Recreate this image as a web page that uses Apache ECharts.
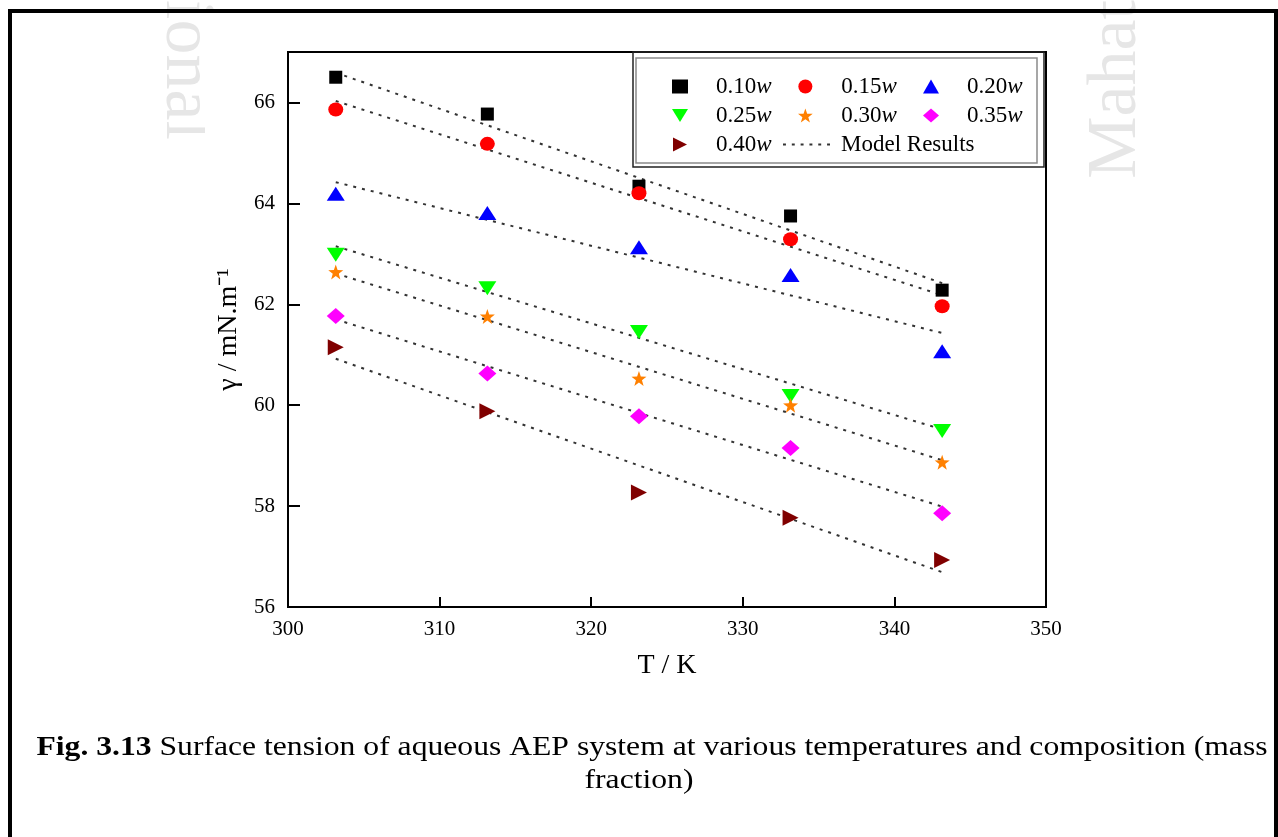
<!DOCTYPE html>
<html>
<head>
<meta charset="utf-8">
<script src="https://cdn.jsdelivr.net/npm/echarts@6/dist/echarts.min.js"></script>
<style>
html,body{margin:0;padding:0;background:#fff;}
#chart{width:1278px;height:837px;}
</style>
</head>
<body>
<div id="chart"></div>
<script>
// Temperatures (K)
const temps = [303.15, 313.15, 323.15, 333.15, 343.15];
// Measured surface tension (mN/m)
const s010 = [66.50, 65.77, 64.34, 63.75, 62.28];
const s015 = [65.86, 65.18, 64.20, 63.29, 61.96];
const s020 = [64.19, 63.81, 63.13, 62.58, 61.07];
const s025 = [62.98, 62.32, 61.45, 60.18, 59.49];
const s030 = [62.64, 61.76, 60.53, 60.00, 58.87];
const s035 = [61.77, 60.63, 59.78, 59.15, 57.86];
const s040 = [61.15, 59.88, 58.27, 57.77, 56.93];
// Model results: values at first and last temperature
const modelT = [303.15, 343.15];
const m010 = [66.59, 62.42];
const m015 = [66.03, 62.18];
const m020 = [64.42, 61.43];
const m025 = [63.15, 59.52];
const m030 = [62.61, 58.91];
const m035 = [61.70, 57.99];
const m040 = [60.92, 56.69];
const names = ['0.10w','0.15w','0.20w','0.25w','0.30w','0.35w','0.40w'];
const xTicks = [300, 310, 320, 330, 340, 350];
const yTicks = [56, 58, 60, 62, 64, 66];

const measured = [s010, s015, s020, s025, s030, s035, s040];
const models = [m010, m015, m020, m025, m030, m035, m040];
const colors = ['#000000','#ff0000','#0000ff','#00ff00','#ff8000','#ff00ff','#800000'];
const STAR = 'path://M100,0L123.5,67.6L195.1,69.1L138,112.4L158.8,180.9L100,140L41.2,180.9L62,112.4L4.9,69.1L76.5,67.6Z';
const symbols = ['rect','circle','triangle','path://M0,0L2,0L1,1.6Z',STAR,'diamond','path://M0,0L2,1L0,2Z'];
const sizes = [13,[15,14],[18,14],[18,14],15,[18,16],[16,16]];
const DOTS = 'path://M0,0h3v2h-3z M9,0h3v2h-3z M18,0h3v2h-3z M27,0h3v2h-3z M36,0h3v2h-3z M45,0h3v2h-3z';

const FONT = "'Liberation Serif','Times New Roman',serif";
const series = [];
measured.forEach((arr, i) => {
  series.push({
    name: names[i], type: 'scatter', symbol: symbols[i], symbolSize: sizes[i],
    itemStyle: {color: colors[i], opacity: 1},
    data: temps.map((t, k) => [t, arr[k]]), z: 3
  });
});
models.forEach((arr) => {
  series.push({
    name: 'Model Results', type: 'line', symbol: 'none', silent: true,
    lineStyle: {color: '#333', width: 2, type: [3, 6]},
    itemStyle: {color: '#333'},
    data: modelT.map((t, k) => [t, arr[k]]), z: 2
  });
});

const LFS = 23;
const legendText = {
  fontFamily: FONT, fontSize: LFS, color: '#000',
  rich: {
    n: {fontFamily: FONT, fontSize: LFS, color: '#000', padding: [0,0,0,23]},
    w: {fontFamily: FONT, fontSize: LFS, color: '#000', fontStyle: 'italic'},
    m: {fontFamily: FONT, fontSize: LFS, color: '#000', padding: [0,0,0,6]}
  }
};
const fmt = (name) => name === 'Model Results' ? '{m|Model Results}' : '{n|' + name.slice(0, -1) + '}{w|w}';
function mkLegend(data, left, top, iw, ih) {
  return {
    data: data, left: left, top: top, orient: 'vertical', itemGap: 6,
    itemWidth: iw, itemHeight: ih, padding: 0, formatter: fmt,
    textStyle: legendText, selectedMode: false
  };
}

const option = {
  backgroundColor: '#fff',
  animation: false,
  grid: {left: 288, right: 232, top: 52, bottom: 230, show: true, borderColor: '#000', borderWidth: 2},
  xAxis: {
    type: 'value', min: 300, max: 350, interval: 10,
    name: 'T / K', nameLocation: 'middle', nameGap: 45,
    nameTextStyle: {fontFamily: FONT, fontSize: 28, color: '#000'},
    axisLine: {show: true, lineStyle: {color: '#000', width: 2}},
    axisTick: {show: true, inside: true, length: 10, lineStyle: {color: '#000', width: 2}},
    axisLabel: {fontFamily: FONT, fontSize: 21, color: '#000', margin: 12},
    splitLine: {show: false}
  },
  yAxis: {
    type: 'value', min: 56, max: 67,
    name: 'γ / mN.m⁻¹', nameLocation: 'middle', nameGap: 44,
    nameTextStyle: {fontFamily: FONT, fontSize: 28, color: '#000'},
    axisLine: {show: true, lineStyle: {color: '#000', width: 2}},
    axisTick: {show: true, inside: true, length: 12, customValues: yTicks, lineStyle: {color: '#000', width: 2}},
    axisLabel: {fontFamily: FONT, fontSize: 21, color: '#000', margin: 13, customValues: yTicks},
    splitLine: {show: false}
  },
  legend: [
    mkLegend(['0.10w','0.25w','0.40w'], 672, 75, 16, 14),
    mkLegend(['0.15w','0.30w'], 798, 75, 16, 14),
    mkLegend(['0.20w','0.35w'], 923, 75, 16, 14),
    mkLegend([{name: 'Model Results', icon: DOTS}], 783, 133, 47, 2)
  ],
  graphic: [
    {type: 'text', z: -20, left: 150, top: 0, rotation: -Math.PI/2,
      style: {text: 'ional', fontFamily: FONT, fontSize: 70, fill: '#e6e6e6'}},
    {type: 'text', z: -20, left: 1082, top: 0, rotation: Math.PI/2,
      style: {text: 'Mahat', fontFamily: FONT, fontSize: 70, fill: '#e6e6e6'}},
    {type: 'rect', z: -15, shape: {x: 205, y: 42, width: 880, height: 660}, style: {fill: '#fff'}},
    {type: 'rect', z: 10, shape: {x: 10, y: 11, width: 1266, height: 900}, style: {fill: 'none', stroke: '#000', lineWidth: 4}},
    {type: 'rect', z: 5, shape: {x: 633, y: 52, width: 411, height: 115}, style: {fill: 'none', stroke: '#222', lineWidth: 1.5}},
    {type: 'rect', z: 5, shape: {x: 636, y: 58, width: 401, height: 105}, style: {fill: 'none', stroke: '#8a8a8a', lineWidth: 1.5}},
    {type: 'text', z: 10, x: 652, y: 748, scaleX: 1.13,
      style: {text: '{b|Fig. 3.13} Surface tension of aqueous AEP system at various temperatures and composition (mass',
        fontFamily: FONT, fontSize: 28, fill: '#000', align: 'center', verticalAlign: 'middle',
        rich: {b: {fontFamily: FONT, fontSize: 28, fontWeight: 'bold', fill: '#000'}}}},
    {type: 'text', z: 10, x: 639, y: 781, scaleX: 1.13,
      style: {text: 'fraction)', fontFamily: FONT, fontSize: 28, fill: '#000', align: 'center', verticalAlign: 'middle'}}
  ],
  series: series
};
const chart = echarts.init(document.getElementById('chart'), null, {renderer: 'canvas'});
chart.setOption(option);
</script>
</body>
</html>
